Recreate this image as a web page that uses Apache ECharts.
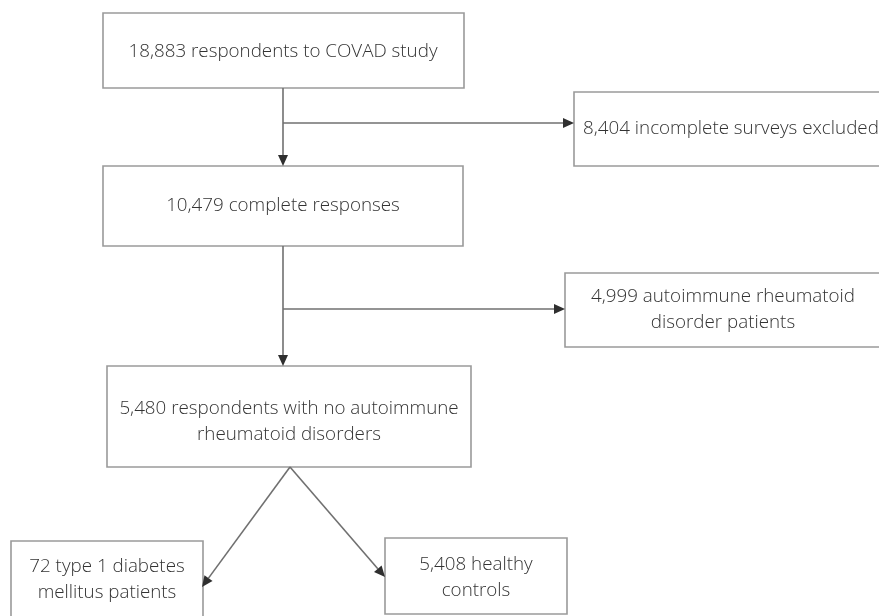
<!DOCTYPE html>
<html>
<head>
<meta charset="utf-8">
<script src="https://cdn.jsdelivr.net/npm/echarts@6/dist/echarts.min.js"></script>
<style>html,body{margin:0;padding:0;background:#fff}#main{width:879px;height:616px}</style>
</head>
<body>
<div id="main"></div>
<script>
// ---- chart content ----
const boxLabels = [
  '18,883 respondents to COVAD study',
  '8,404 incomplete surveys excluded',
  '10,479 complete responses',
  '4,999 autoimmune rheumatoid\ndisorder patients',
  '5,480 respondents with no autoimmune\nrheumatoid disorders',
  '72 type 1 diabetes\nmellitus patients',
  '5,408 healthy\ncontrols'
];
const boxCounts = [18883, 8404, 10479, 4999, 5480, 72, 5408];
// flow links: [from box, to box]
const flowLinks = [[0, 2], [0, 1], [2, 4], [2, 3], [4, 5], [4, 6]];

// ---- layout (canvas units, y downward) ----
// [x0, y0, x1, y1, textX, textY, align]
const boxLayout = [
  [103, 13, 464, 88, 283, 52, 'center'],
  [574, 92, 905, 166, 583, 129, 'left'],
  [103, 166, 463, 246, 283, 206, 'center'],
  [565, 273, 881, 347, 723, 310, 'center'],
  [107, 366, 471, 467, 289, 422, 'center'],
  [11, 541, 203, 630, 107, 580, 'center'],
  [385, 538, 567, 614, 476, 578, 'center']
];
// connector path for each link: [[x,y],...] last point is arrow tip
const linkPaths = [
  [[283, 88], [283, 166]],
  [[283, 123], [574, 123]],
  [[283, 246], [283, 366]],
  [[283, 309], [565, 309]],
  [[290, 467], [202, 587]],
  [[290, 467], [385, 577]]
];

const FONT = '300 18.8px "Open Sans", "Noto Sans", sans-serif';

const chart = echarts.init(document.getElementById('main'), null, {renderer: 'canvas'});

chart.setOption({
  animation: false,
  backgroundColor: '#fff',
  grid: {left: 0, right: 0, top: 0, bottom: 0},
  xAxis: {type: 'value', min: 0, max: 879, show: false},
  yAxis: {type: 'value', min: 0, max: 616, inverse: true, show: false},
  series: [
    {
      type: 'custom',
      name: 'boxes',
      clip: false,
      data: boxLabels.map((t, i) => ({name: t, value: [boxCounts[i]].concat(boxLayout[i].slice(0, 6))})),
      renderItem: function (params, api) {
        const L = boxLayout[params.dataIndex];
        const p0 = api.coord([L[0], L[1]]);
        const p1 = api.coord([L[2], L[3]]);
        const tp = api.coord([L[4], L[5]]);
        return {
          type: 'group',
          children: [
            {
              type: 'rect',
              shape: {x: p0[0], y: p0[1], width: p1[0] - p0[0], height: p1[1] - p0[1]},
              style: {fill: '#fff', stroke: '#9a9a9a', lineWidth: 1.6}
            },
            {
              type: 'text',
              style: {
                text: boxLabels[params.dataIndex],
                x: tp[0], y: tp[1],
                align: L[6], verticalAlign: 'middle',
                font: FONT, fill: '#333333', lineHeight: 26
              }
            }
          ]
        };
      }
    },
    {
      type: 'custom',
      name: 'links',
      clip: false,
      data: flowLinks.map((l, i) => ({value: [l[0], l[1]]})),
      renderItem: function (params, api) {
        const pts = linkPaths[params.dataIndex].map(p => api.coord(p));
        const a = pts[pts.length - 2], b = pts[pts.length - 1];
        const ang = Math.atan2(b[1] - a[1], b[0] - a[0]);
        const len = 11, half = 5;
        const base = [b[0] - len * Math.cos(ang), b[1] - len * Math.sin(ang)];
        const nx = -Math.sin(ang), ny = Math.cos(ang);
        const linePts = pts.slice(0, -1).concat([base]);
        return {
          type: 'group',
          children: [
            {
              type: 'polyline',
              shape: {points: linePts},
              style: {stroke: '#707070', lineWidth: 1.6, fill: null}
            },
            {
              type: 'polygon',
              shape: {points: [b, [base[0] + nx * half, base[1] + ny * half], [base[0] - nx * half, base[1] - ny * half]]},
              style: {fill: '#2f2f2f'}
            }
          ]
        };
      }
    }
  ]
});
</script>
</body>
</html>
